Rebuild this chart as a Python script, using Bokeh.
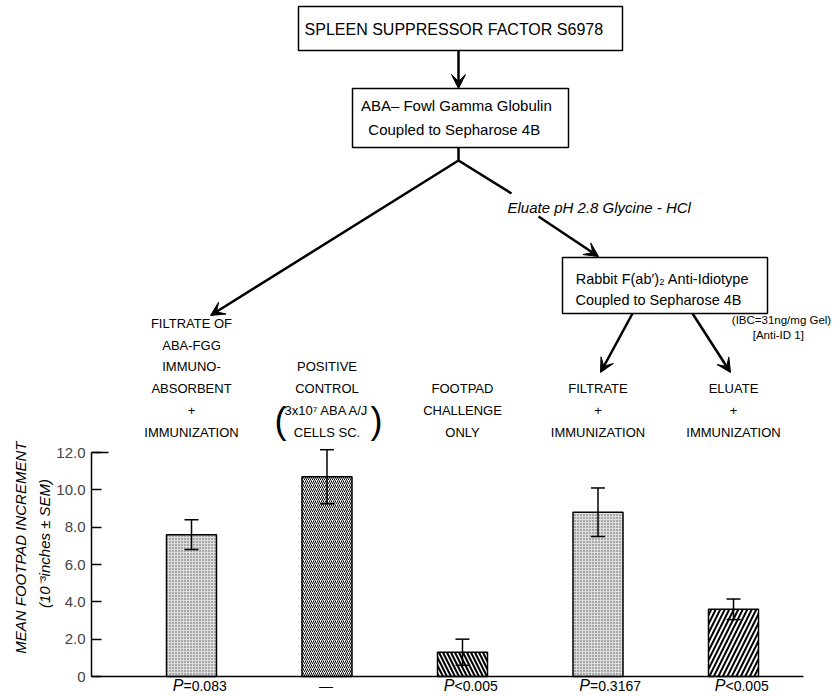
from bokeh.plotting import figure
from bokeh.models import (ColumnDataSource, Range1d, FixedTicker, Whisker, TeeHead,
                          Arrow, VeeHead)
from bokeh.core.properties import value
from bokeh.embed import file_html
from bokeh.resources import INLINE
import math

# ---------------- data ----------------
groups = [
    "FILTRATE OF\nABA-FGG\nIMMUNO-\nABSORBENT\n+\nIMMUNIZATION",
    "POSITIVE\nCONTROL\n3x10\u2077 ABA A/J\nCELLS SC.",
    "FOOTPAD\nCHALLENGE\nONLY",
    "FILTRATE\n+\nIMMUNIZATION",
    "ELUATE\n+\nIMMUNIZATION",
]
means = [7.6, 10.7, 1.3, 8.8, 3.6]
sems = [0.8, 1.45, 0.7, 1.3, 0.55]
p_sym = ["P", "", "P", "P", "P"]
p_rest = ["=0.083", "\u2014", "<0.005", "=0.3167", "<0.005"]
y_ticks = [0, 2, 4, 6, 8, 10, 12]
y_tick_labels = ["0", "2.0", "4.0", "6.0", "8.0", "10.0", "12.0"]
y_title = ["MEAN  FOOTPAD  INCREMENT", "(10\u207b\u00b3inches \u00b1 SEM)"]

FONT = "Liberation Sans"

# ------------- layout helpers (page pixels -> data) -------------
Y0 = 676.0          # page y of value 0
K = 224.0 / 12.0    # px per unit
def Y(py):
    return (Y0 - py) / K

AXIS_X = 91
x_first, x_step = 191.0, 135.5
xs = [x_first + i * x_step for i in range(len(means))]

p = figure(width=840, height=696, output_backend="svg", toolbar_location=None,
           x_range=Range1d(0, 840), y_range=Range1d(Y(696), Y(0)),
           x_axis_location=None, min_border_left=0, min_border_right=0,
           min_border_top=0, min_border_bottom=0)
p.outline_line_color = None
p.grid.visible = False
p.background_fill_color = "white"

ax = p.yaxis[0]
ax.fixed_location = AXIS_X
ax.bounds = (0, 12)
ax.ticker = FixedTicker(ticks=y_ticks)
ax.major_label_overrides = {t: l for t, l in zip(y_ticks, y_tick_labels)}
ax.major_tick_in = 10
ax.major_tick_out = 0
ax.minor_tick_line_color = None
ax.axis_line_width = 1.5
ax.major_tick_line_width = 1.5
ax.major_label_text_font = FONT
ax.major_label_text_font_size = "15px"
ax.major_label_standoff = 6

# y title (two lines, rotated)
p.text(x=[20, 44], y=[Y(543), Y(543)], text=y_title, angle=math.pi / 2,
       text_font=value(FONT), text_font_size="15px", text_font_style="italic",
       text_align="center", text_baseline="middle", text_color="black")

# ---------------- bars ----------------
fills = ["#dedede", "white", "black", "#dedede", "white"]
hatches = [".", "/", "\\", ".", "/"]
hcolors = ["#555555", "black", "white", "#555555", "black"]
hscales = [3, 4, 8, 3, 9]
hweights = [1, 1, 1.5, 1, 2]

src = ColumnDataSource(dict(
    x=xs, top=means, upper=[m + s for m, s in zip(means, sems)],
    lower=[m - s for m, s in zip(means, sems)], label=groups,
    fill=fills, hatch=hatches, hcolor=hcolors, hscale=hscales, hweight=hweights,
    psym=p_sym, prest=p_rest,
))

p.vbar(x="x", top="top", bottom=0, width=50, source=src, fill_color="fill",
       line_color="black", line_width=1.5, hatch_pattern="hatch",
       hatch_color="hcolor", hatch_scale="hscale", hatch_weight="hweight")

p.add_layout(Whisker(source=src, base="x", upper="upper", lower="lower",
                     level="overlay", line_width=1.5, line_color="black",
                     upper_head=TeeHead(size=14, line_width=1.5),
                     lower_head=TeeHead(size=14, line_width=1.5)))

# baseline and long top tick
p.segment(x0=[AXIS_X], y0=[0], x1=[803], y1=[0], line_color="black", line_width=1.5)
p.segment(x0=[AXIS_X], y0=[12], x1=[108], y1=[12], line_color="black", line_width=1.5)

# group labels
p.text(x="x", y=Y(439), text="label", source=src, text_font=value(FONT),
       text_font_size="13px", text_align="center", text_baseline="bottom",
       text_line_height=1.45, text_color="black")
# big parentheses for positive control
p.text(x=[280, 376], y=[Y(420), Y(420)], text=["(", ")"], text_font=value(FONT),
       text_font_size="36px", text_align="center", text_baseline="middle",
       text_color="black")

# p values
p.text(x="x", y=Y(685), text="prest", source=src, x_offset=-8,
       text_font=value(FONT), text_font_size="14px", text_align="left",
       text_baseline="alphabetic", text_color="black")
p.text(x="x", y=Y(685), text="psym", source=src, x_offset=-8,
       text_font=value(FONT), text_font_size="16px", text_font_style="italic",
       text_align="right", text_baseline="alphabetic", text_color="black")

# ---------------- flowchart ----------------
boxes = [(298, 6, 622, 50), (352, 88, 568, 147), (562, 257, 767, 313)]
p.quad(left=[b[0] for b in boxes], right=[b[2] for b in boxes],
       top=[Y(b[1]) for b in boxes], bottom=[Y(b[3]) for b in boxes],
       fill_color="white", line_color="black", line_width=1.5)

p.text(x=[460], y=[Y(29)], text=["SPLEEN  SUPPRESSOR  FACTOR  S6978"],
       text_font=value(FONT), text_font_size="16px", text_align="center",
       text_baseline="middle", text_color="black")
p.text(x=[460, 460], y=[Y(105), Y(129)],
       text=["ABA\u2013 Fowl  Gamma  Globulin", "Coupled  to  Sepharose  4B"],
       text_font=value(FONT), text_font_size="15px", text_align="center",
       text_baseline="middle", text_color="black")
p.text(x=[664, 664], y=[Y(278), Y(299)],
       text=["Rabbit F(ab\u2032)\u2082  Anti-Idiotype", "Coupled  to  Sepharose  4B"],
       text_font=value(FONT), text_font_size="14.5px", text_align="center",
       text_baseline="middle", text_color="black")
p.text(x=[507], y=[Y(207)], text=["Eluate  pH 2.8  Glycine - HCl"],
       text_font=value(FONT), text_font_size="15px", text_font_style="italic",
       text_align="left", text_baseline="middle", text_color="black")
p.text(x=[781, 781], y=[Y(319), Y(334)], text=["(IBC=31ng/mg Gel)", "[Anti-ID   1]"],
       text_font=value(FONT), text_font_size="11.5px", text_align="center",
       text_baseline="middle", text_color="black")

# connecting lines
p.segment(x0=[458, 458], y0=[Y(147), Y(160)], x1=[458, 511], y1=[Y(160), Y(193)],
          line_color="black", line_width=2.5)

def arrow(x0, y0, x1, y1):
    p.add_layout(Arrow(end=VeeHead(size=14, fill_color="black", line_color="black"),
                       x_start=x0, y_start=Y(y0), x_end=x1, y_end=Y(y1),
                       line_width=2.5, line_color="black"))

arrow(458, 50, 458, 88)
arrow(458, 160, 210, 315)
arrow(538, 216, 598, 256)
arrow(632, 313, 600, 372)
arrow(692, 313, 730, 372)

open("out.html", "w").write(file_html(p, INLINE))
